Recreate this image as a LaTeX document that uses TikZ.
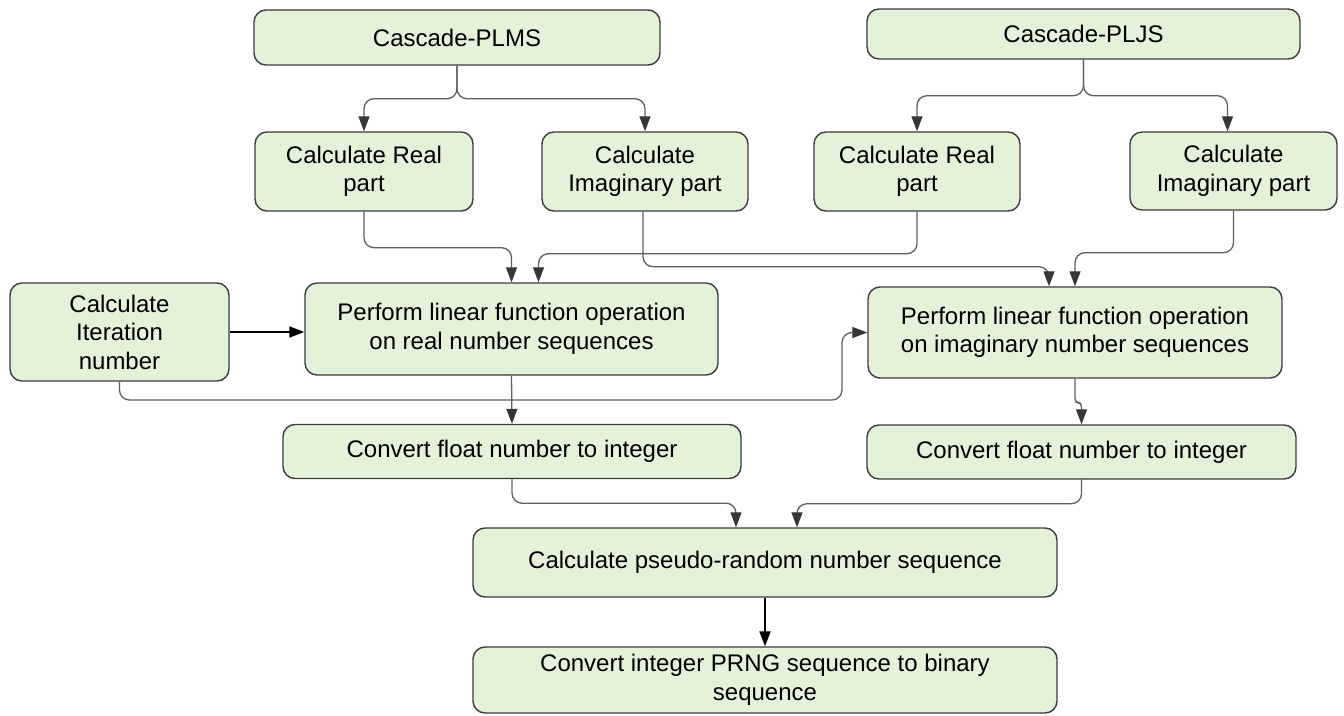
\documentclass[tikz,border=0pt]{standalone}
\usepackage{fontspec}
\setmainfont{Liberation Sans}
\usetikzlibrary{arrows.meta,calc}
\definecolor{boxfill}{RGB}{227,242,217}
\definecolor{boxline}{RGB}{60,60,60}
\definecolor{wire}{RGB}{95,95,95}
\definecolor{tipdark}{RGB}{55,55,55}
\begin{document}
\begin{tikzpicture}[x=1pt,y=-1pt,
  box/.style={draw=boxline, line width=1.4pt, fill=boxfill, rounded corners=12pt,
    align=center, inner sep=0pt, font=\fontsize{24}{28.5}\selectfont},
  conn/.style={draw=wire, line width=1.3pt, rounded corners=10pt,
    -{Triangle[length=15pt,width=11pt,color=tipdark]}},
  boldconn/.style={draw=black, line width=2pt,
    -{Triangle[length=15pt,width=11pt]}}]
\useasboundingbox (0,0) rectangle (1344,715);

% sources
\node[box, minimum width=406pt, minimum height=55pt] (plms) at (457,37.5) {Cascade-PLMS};
\node[box, minimum width=433pt, minimum height=50pt] (pljs) at (1083.5,34) {Cascade-PLJS};

% real / imaginary parts
\node[box, minimum width=218pt, minimum height=79pt] (cr1) at (364,171.5) {Calculate Real\\part};
\node[box, minimum width=206pt, minimum height=79pt] (ci1) at (645,171.5) {Calculate\\Imaginary part};
\node[box, minimum width=206pt, minimum height=79pt] (cr2) at (917,171.5) {Calculate Real\\part};
\node[box, minimum width=207pt, minimum height=78pt] (ci2) at (1233.5,171) {Calculate\\Imaginary part};

% linear operations
\node[box, minimum width=219pt, minimum height=98pt] (iter) at (119.5,332) {Calculate\\Iteration\\number};
\node[box, minimum width=413pt, minimum height=92pt] (pl1) at (511.5,329) {Perform linear function operation\\on real number sequences};
\node[box, minimum width=414pt, minimum height=91pt] (pl2) at (1075,332.5) {Perform linear function operation\\on imaginary number sequences};

% conversion
\node[box, minimum width=458pt, minimum height=54pt] (cf1) at (512,451.5) {Convert float number to integer};
\node[box, minimum width=429pt, minimum height=54pt] (cf2) at (1081.5,452) {Convert float number to integer};
\node[box, minimum width=584pt, minimum height=69pt] (cp) at (765,562.5) {Calculate pseudo-random number sequence};
\node[box, minimum width=584pt, minimum height=66pt] (cb) at (765,680) {Convert integer PRNG sequence to binary\\sequence};

% connectors
\draw[conn] (plms.south) -- ++(0,33) -| (cr1.north);
\draw[conn] (plms.south) -- ++(0,33) -| (ci1.north);
\draw[conn] (pljs.south) -- ++(0,36) -| (cr2.north);
\draw[conn] (pljs.south) -- ++(0,36) -| ([xshift=-6pt]ci2.north);

\draw[conn] (cr1.south) -- ++(0,36) -| (pl1.north);
\draw[conn] (cr2.south) -- ++(0,42) -| ([xshift=27pt]pl1.north);
\draw[conn] ([xshift=-2pt]ci1.south) -- ++(0,55) -| ([xshift=-26pt]pl2.north);
\draw[conn] (ci2.south) -- ++(0,42) -| (pl2.north);

\draw[boldconn] (iter.east) -- (iter.east -| pl1.west);
\coordinate (bend) at (842,400);
\draw[conn] (iter.south) |- (bend) |- (pl2.west);

\draw[conn] (pl1.south) -- (cf1.north);
\draw[conn, rounded corners=4pt] (pl2.south) -- ++(0,24) -| (cf2.north);

\draw[conn] (cf1.south) -- ++(0,24) -| ([xshift=-29pt]cp.north);
\draw[conn] (cf2.south) -- ++(0,24) -| ([xshift=32pt]cp.north);

\draw[boldconn] (cp.south) -- (cb.north);
\end{tikzpicture}
\end{document}
